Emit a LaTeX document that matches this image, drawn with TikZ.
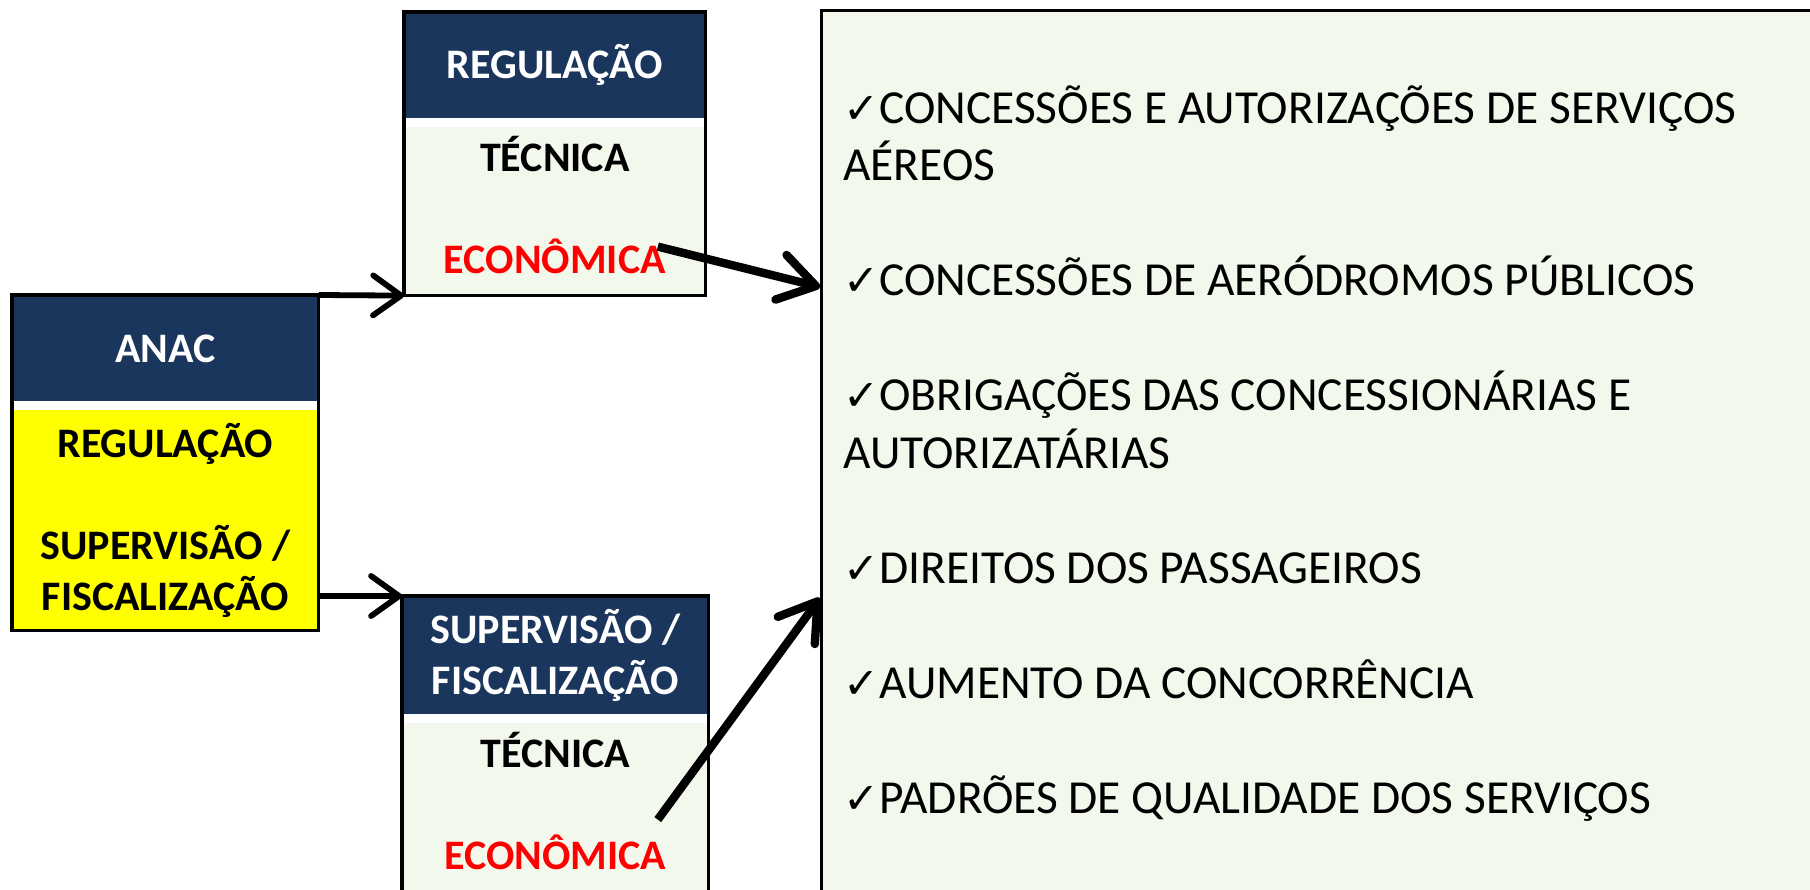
\documentclass[tikz,border=0pt]{standalone}
\usepackage{fontspec}
\setmainfont{Carlito}
\newfontfamily\chkfont{DejaVu Sans}
\usetikzlibrary{arrows.meta,positioning,fit,calc}
\definecolor{anacblue}{HTML}{1B365D}
\definecolor{palegreen}{HTML}{F2F8EB}
\definecolor{anacyellow}{HTML}{FFFF00}
\newcommand{\chk}{\makebox[18pt][l]{\chkfont\bfseries\fontsize{21.5}{21}\selectfont ✓}}
\newcommand{\lift}{\rule[-6pt]{0pt}{0pt}}
\tikzset{
    head/.style={fill=anacblue, text=white, inner sep=0pt, align=center, font=\fontsize{21}{25.5}\selectfont\bfseries},
    body/.style={fill=palegreen, inner sep=0pt, align=center, font=\fontsize{21}{25.5}\selectfont\bfseries},
    frame/.style={draw, line width=1.6pt, inner sep=0pt},
    itens/.style={align=left, inner sep=0pt, font=\fontsize{23.7}{28.75}\selectfont},
    link/.style={-{Straight Barb[round, length=14pt, width=20pt]}, line width=2.9pt},
    flow/.style={-{Straight Barb[round, length=18pt, width=23pt]}, line width=4.2pt}
}

\begin{document}
\begin{tikzpicture}[x=0.5pt, y=-0.5pt]
        \clip (0,0) rectangle (1810,889);

        % list of competences
        \node[frame, fill=palegreen, anchor=north west, minimum width=560pt, minimum height=460pt] (lista) at (820,9) {};
        \node[itens, anchor=base west] (itens) at (843,813) {\chk CONCESSÕES E AUTORIZAÇÕES DE SERVIÇOS\\AÉREOS\\[28.75pt]
            \chk CONCESSÕES DE AERÓDROMOS PÚBLICOS\\[28.75pt]
            \chk OBRIGAÇÕES DAS CONCESSIONÁRIAS E\\AUTORIZATÁRIAS\\[28.75pt]
            \chk DIREITOS DOS PASSAGEIROS\\[28.75pt]
            \chk AUMENTO DA CONCORRÊNCIA\\[28.75pt]
            \chk PADRÕES DE QUALIDADE DOS SERVIÇOS};

        % ANAC
        \node[head, anchor=north west, minimum width=153pt, minimum height=53pt] (anachead) at (12,295) {ANAC};
        \node[body, fill=anacyellow, below=4pt of anachead, minimum width=153pt, minimum height=110pt] (anacbody) {REGULAÇÃO\\[25.5pt]SUPERVISÃO /\\FISCALIZAÇÃO};
        \node[frame, fit=(anachead)(anacbody)] (anac) {};

        % regulacao
        \node[head, anchor=north west, minimum width=150.5pt, minimum height=53pt] (reghead) at (404,12) {REGULAÇÃO};
        \node[body, below=4pt of reghead, minimum width=150.5pt, minimum height=84pt] (regbody) {TÉCNICA\\[25.5pt]\textcolor{red}{ECONÔMICA}\lift};
        \node[frame, fit=(reghead)(regbody)] (reg) {};

        % supervisao
        \node[head, anchor=north west, minimum width=153pt, minimum height=59pt] (suphead) at (402,596) {SUPERVISÃO /\\FISCALIZAÇÃO};
        \node[body, below=4pt of suphead, minimum width=153pt, minimum height=84pt] (supbody) {TÉCNICA\\[25.5pt]\textcolor{red}{ECONÔMICA}\lift};
        \node[frame, fit=(suphead)(supbody)] (sup) {};

        \coordinate (regout) at ($(regbody.south east)+(-48,-49)$);
        \coordinate (supout) at ($(supbody.south east)+(-51,-72)$);

        \draw[link] (anachead.north east) -- (regbody.south west);
        \draw[link] (anacbody.east |- suphead.north west) -- (suphead.north west);
        \draw[flow] (regout) -- ($(lista.north west)+(0,278)$);
        \draw[flow] (supout) -- ($(lista.north west)+(0,589)$);
    \end{tikzpicture}
\end{document}
